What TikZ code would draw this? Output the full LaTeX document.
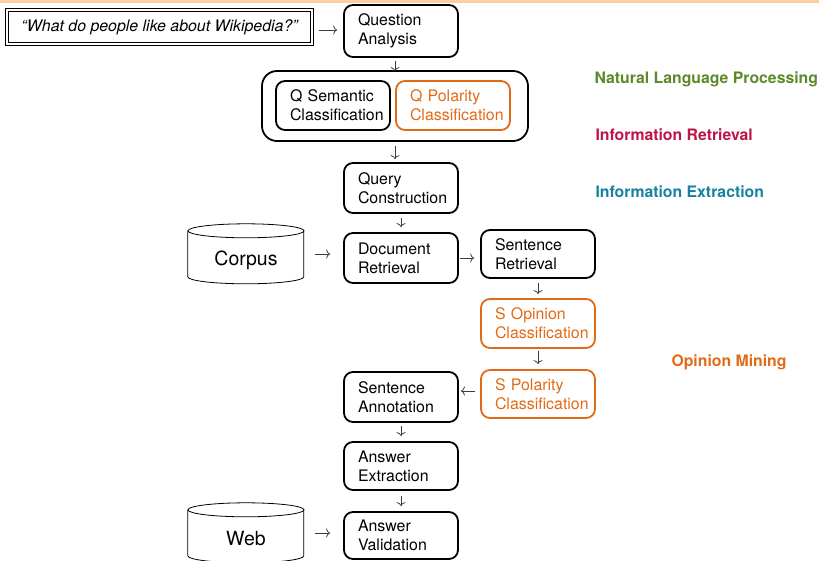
\documentclass[tikz,border=0pt]{standalone}
\usepackage{fontspec}
\setmainfont{TeX Gyre Heros}
\usetikzlibrary{arrows.meta}
\definecolor{orng}{RGB}{226,106,22}
\definecolor{nlpgreen}{RGB}{92,138,42}
\definecolor{ircrimson}{RGB}{190,20,72}
\definecolor{ieteal}{RGB}{22,130,160}
\definecolor{topstrip}{RGB}{252,206,160}
\definecolor{arrgray}{RGB}{60,60,60}
\newcommand\twolines[2]{\hspace*{7pt}\mbox{#1}\\\hspace*{7pt}\mbox{#2}}
\begin{document}
\begin{tikzpicture}[x=1pt,y=-1pt,
  txt/.style={font=\fontsize{15.9}{19}\selectfont},
  stepbox/.style={txt,draw,line width=1.8pt,rounded corners=9pt,text width=100pt,
    inner xsep=7pt,inner ysep=3pt,align=left,minimum width=114pt,minimum height=49pt},
  opbox/.style={stepbox,draw=orng,text=orng},
  cylbody/.style={minimum width=116pt,minimum height=60pt,inner sep=0pt},
  conn/.style={draw=arrgray,line width=0.7pt,-{To[length=4pt,width=9pt]}},
  area/.style={font=\fontsize{15.8}{19}\selectfont\bfseries,anchor=west}
]
\useasboundingbox (0,0) rectangle (819,560);
\clip (0,0) rectangle (819,560);
\fill[topstrip] (0,0) rectangle (819,3);

% question
\node[txt,draw,line width=0.8pt,double,double distance=2pt,minimum width=305pt,minimum height=34pt,inner sep=0pt]
  (q) at (159.5,27) {\itshape “What do people like about Wikipedia?”};

\node[stepbox,minimum height=52pt] (qa) at (401,31) {\twolines{Question}{Analysis}};

\node[draw,line width=1.8pt,rounded corners=15pt,minimum width=266pt,minimum height=70pt] (outer) at (395,106) {};
\node[stepbox] (qs) at (333,105.5) {\twolines{Q Semantic}{Classification}};
\node[opbox] (qp) at (453,105.5) {\twolines{Q Polarity}{Classification}};

\node[stepbox,minimum height=50pt] (qc) at (401,188) {\twolines{Query}{Construction}};
\node[stepbox,minimum height=50pt] (dr) at (401,258) {\twolines{Document}{Retrieval}};
\node[stepbox,minimum height=48pt] (sr) at (538,254) {\twolines{Sentence}{Retrieval}};
\node[opbox] (so) at (538,323.5) {\twolines{S Opinion}{Classification}};
\node[opbox,minimum height=48pt] (sp) at (538,394) {\twolines{S Polarity}{Classification}};
\node[stepbox,minimum height=50pt] (sa) at (401,397) {\twolines{Sentence}{Annotation}};
\node[stepbox,minimum height=48pt] (ae) at (401,466) {\twolines{Answer}{Extraction}};
\node[stepbox,minimum height=47pt] (av) at (401,535.5) {\twolines{Answer}{Validation}};

% cylinders
\node[cylbody,label={[font=\fontsize{19.5}{22}\selectfont,yshift=-6pt]center:Corpus}] (corpus) at (246,254) {};
\node[cylbody,label={[font=\fontsize{19.5}{22}\selectfont,yshift=-6pt]center:Web}] (web) at (246,533) {};
\foreach \c in {corpus,web}{
  \draw[line width=0.8pt] ([yshift=-7pt]\c.north) ellipse[x radius=58pt,y radius=7pt];
  \draw[line width=0.8pt] ([yshift=-7pt]\c.north west) -- ++(0,46)
     arc[start angle=180,end angle=360,x radius=58pt,y radius=7pt] -- ++(0,-46);
}

% labels
\node[area,text=nlpgreen] (nlp) at (591,79.5) {Natural Language Processing};
\node[area,text=ircrimson] (ir) at (592,135) {Information Retrieval};
\node[area,text=ieteal] (ie) at (592,192) {Information Extraction};
\node[area,text=orng] (om) at (668,362) {Opinion Mining};

% connectors
\draw[conn,shorten <=7pt,shorten >=6pt] ([yshift=-3pt]q.east) -- ([yshift=-3pt]q.east -| qa.west);
\draw[conn,shorten <=3pt,shorten >=-1pt] (outer.north |- qa.south) -- (outer.north);
\draw[conn,shorten <=4pt,shorten >=3pt] (outer.south) -- (outer.south |- qc.north);
\draw[conn,shorten <=4pt,shorten >=5pt] (qc.south) -- (dr.north);
\draw[conn,shorten <=11pt,shorten >=13pt] (corpus.east) -- (corpus.east -| dr.west);
\draw[conn,shorten <=1pt,shorten >=6pt] (dr.east) -- (dr.east -| sr.west);
\draw[conn,shorten <=4pt,shorten >=4pt] (sr.south) -- (so.north);
\draw[conn,shorten <=2pt,shorten >=5pt] (so.south) -- (sp.north);
\draw[conn,shorten <=5pt,shorten >=2pt] ([yshift=3pt]sp.west) -- ([yshift=3pt]sp.west -| sa.east);
\draw[conn,shorten <=3pt,shorten >=5pt] (sa.south) -- (ae.north);
\draw[conn,shorten <=5pt,shorten >=5pt] (ae.south) -- (av.north);
\draw[conn,shorten <=11pt,shorten >=13pt] (web.east) -- (web.east -| av.west);
\end{tikzpicture}
\end{document}
